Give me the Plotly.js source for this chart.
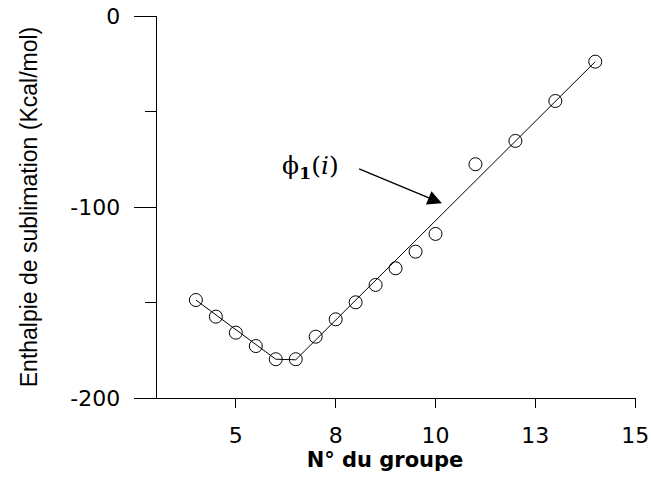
<!DOCTYPE html>
<html>
<head>
<meta charset="utf-8">
<script src="https://cdn.plot.ly/plotly-3.0.1.min.js"></script>
<style>html,body{margin:0;padding:0;background:#fff;}#chart{width:651px;height:477px;}</style>
</head>
<body>
<div id="chart"></div>
<script>
// Data
var groupe = [4, 4.5, 5, 5.5, 6, 6.5, 7, 7.5, 8, 8.5, 9, 9.5, 10, 11, 12, 13, 14];
var enthalpie = [-148.7, -157.4, -165.8, -172.8, -179.7, -179.7, -167.9, -158.8, -149.9, -140.8, -132.1, -123.4, -114.1, -77.6, -65.4, -44.5, -23.9];
var modeleX = [4, 6, 6.5, 14];
var modeleY = [-148.7, -179.7, -180, -23.9];
var xTickVals = [5, 7.5, 10, 12.5, 15];
var xTickText = ['5', '8', '10', '13', '15'];
var yTickVals = [-200, -100, 0];
var yTickText = ['-200', '-100', '0'];
var yMinorVals = [-150, -50];

var traces = [
  {x: modeleX, y: modeleY, mode: 'lines', type: 'scatter',
   line: {color: '#000', width: 1}, hoverinfo: 'skip', showlegend: false},
  {x: groupe, y: enthalpie, mode: 'markers', type: 'scatter',
   marker: {symbol: 'circle-open', size: 13, color: '#000', line: {width: 1, color: '#000'}},
   showlegend: false}
];

var layout = {
  width: 651, height: 477,
  margin: {l: 134, r: 15, t: 16, b: 79},
  paper_bgcolor: '#fff', plot_bgcolor: '#fff',
  showlegend: false,
  xaxis: {
    range: [2.45, 15.02], showgrid: false, zeroline: false,
    showline: true, linecolor: '#000', linewidth: 1,
    ticks: 'outside', ticklen: 9, tickcolor: '#000', tickwidth: 1,
    tickmode: 'array', tickvals: xTickVals, ticktext: xTickText,
    tickfont: {family: 'DejaVu Sans, Arial, sans-serif', size: 22, color: '#000'},
    ticklabelstandoff: 9,
    title: {text: 'N° du groupe', standoff: 3,
            font: {family: 'DejaVu Sans, Arial, sans-serif', size: 21, color: '#000', weight: 'bold'}}
  },
  yaxis: {
    range: [-200, 0], showgrid: false, zeroline: false,
    anchor: 'free', position: 0.0432,
    showline: true, linecolor: '#000', linewidth: 1,
    ticks: 'outside', ticklen: 22, tickcolor: '#000', tickwidth: 1,
    tickmode: 'array', tickvals: yTickVals, ticktext: yTickText,
    minor: {tickmode: 'array', tickvals: yMinorVals, ticks: 'outside', ticklen: 11, tickcolor: '#000', tickwidth: 1},
    tickfont: {family: 'DejaVu Sans, Arial, sans-serif', size: 22, color: '#000'},
    ticklabelstandoff: 9,
    title: {text: 'Enthalpie de sublimation (Kcal/mol)', standoff: 25,
            font: {family: 'Liberation Sans, Arial, sans-serif', size: 23, color: '#000'}}
  },
  annotations: [
    {x: 10.16, y: -98.1, xref: 'x', yref: 'y',
     ax: 8.05, ay: -79.7, axref: 'x', ayref: 'y',
     text: '', showarrow: true, arrowhead: 2, arrowsize: 2.2, arrowwidth: 1.3, arrowcolor: '#000'},
    {x: 6.86, y: -78.9, xref: 'x', yref: 'y', showarrow: false,
     text: 'ϕ<sub><b>1</b></sub>(<i>i</i>)',
     font: {family: 'DejaVu Serif, Liberation Serif, serif', size: 25, color: '#000'}}
  ]
};

Plotly.newPlot('chart', traces, layout, {displayModeBar: false, staticPlot: true});
</script>
</body>
</html>
